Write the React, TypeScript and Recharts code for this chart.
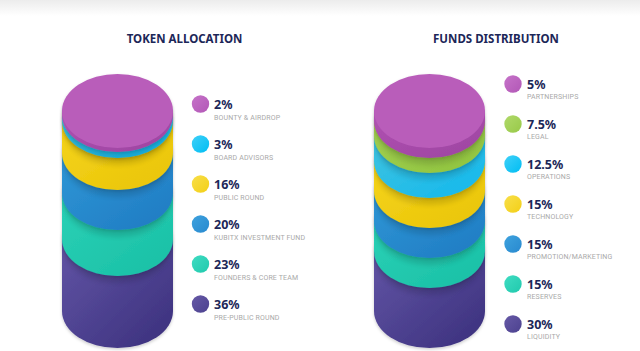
import React from "react";
import { BarChart, Bar, XAxis, YAxis } from "recharts";

// ---- Data ----
const tokenTitle = "TOKEN ALLOCATION";
const tokenLabels = ["BOUNTY & AIRDROP", "BOARD ADVISORS", "PUBLIC ROUND", "KUBITX INVESTMENT FUND", "FOUNDERS & CORE TEAM", "PRE-PUBLIC ROUND"];
const tokenValues = [2, 3, 16, 20, 23, 36];
const tokenValueText = ["2%", "3%", "16%", "20%", "23%", "36%"];

const fundsTitle = "FUNDS DISTRIBUTION";
const fundsLabels = ["PARTNERSHIPS", "LEGAL", "OPERATIONS", "TECHNOLOGY", "PROMOTION/MARKETING", "RESERVES", "LIQUIDITY"];
const fundsValues = [5, 7.5, 12.5, 15, 15, 15, 30];
const fundsValueText = ["5%", "7.5%", "12.5%", "15%", "15%", "15%", "30%"];

// ---- Styles ----
type Pal = { key: string; top: string; light: string; dark: string; dot: string; dotLight: string };
const PAL: Record<string, Pal> = {
  magenta: { key: "magenta", top: "#b95dba", light: "#b052b2", dark: "#9d44a1", dot: "#b257b6", dotLight: "#c673c9" },
  cyan: { key: "cyan", top: "#3fc0dc", light: "#40c3df", dark: "#12b8ee", dot: "#00bdf3", dotLight: "#3fd0f8" },
  yellow: { key: "yellow", top: "#f4d21c", light: "#f5d41c", dark: "#e9c407", dot: "#f3cf16", dotLight: "#f8df4a" },
  blue: { key: "blue", top: "#2d94d4", light: "#2f97d6", dark: "#1f7ac2", dot: "#2889cf", dotLight: "#3ea2de" },
  teal: { key: "teal", top: "#25ccb0", light: "#2bd1b6", dark: "#19bfa5", dot: "#20c9ad", dotLight: "#3fdcc2" },
  purple: { key: "purple", top: "#5b4f9f", light: "#6255a5", dark: "#3a2f7c", dot: "#4c418f", dotLight: "#6659a6" },
  green: { key: "green", top: "#9fce4d", light: "#a3d152", dark: "#8fc33e", dot: "#98c948", dotLight: "#b0d96a" },
};
const tokenColors = [PAL.magenta, PAL.cyan, PAL.yellow, PAL.blue, PAL.teal, PAL.purple];
const fundsColors = [PAL.magenta, PAL.green, PAL.cyan, PAL.yellow, PAL.blue, PAL.teal, PAL.purple];

const NAVY = "#1c2758";
const RY = 37;

function buildRow(values: number[]) {
  const row: Record<string, number | string> = { name: "stack" };
  values.forEach((v, i) => (row["s" + i] = v));
  return [row];
}

function makeShape(pal: Pal, isBottom: boolean) {
  return (props: any) => {
    const { x, y, width, height } = props;
    if (width == null || height == null) return null;
    const rx = width / 2;
    const cx = x + rx;
    const yt = y;
    const yb = y + height;
    const side = `M${x},${yt} L${x},${yb} A${rx},${RY} 0 0 0 ${x + width},${yb} L${x + width},${yt} Z`;
    const cast = `M${x + 1},${yb} A${rx - 1},${RY} 0 0 0 ${x + width - 1},${yb} L${x + width - 1},${yb + 7} A${rx - 1},${RY} 0 0 1 ${x + 1},${yb + 7} Z`;
    return (
      <g>
        {!isBottom && <path d={cast} fill="#000" opacity={0.12} filter="url(#blur3)" />}
        <g filter="url(#layerShadow)">
          <path d={side} fill={`url(#side-${pal.key})`} />
          <ellipse cx={cx} cy={yt} rx={rx} ry={RY} fill={pal.top} />
        </g>
      </g>
    );
  };
}

function Cylinder({ values, colors, left, margin }: { values: number[]; colors: Pal[]; left: number; margin: any }) {
  const data = buildRow(values);
  const idx = values.map((_, i) => i).reverse(); // bottom first
  return (
    <div style={{ position: "absolute", left, top: 0 }}>
      <BarChart width={320} height={351} data={data} margin={margin} barCategoryGap={0}>
        <XAxis dataKey="name" hide />
        <YAxis hide domain={[0, 100]} />
        {idx.map((i, k) => (
          <Bar key={i} dataKey={"s" + i} stackId="a" isAnimationActive={false} shape={makeShape(colors[i], k === 0)} />
        ))}
      </BarChart>
    </div>
  );
}

function LegendBlock({ labels, texts, colors, cx, tx, cy0, labelDy }: any) {
  return (
    <g>
      {labels.map((l: string, i: number) => {
        const cy = cy0 + 40 * i;
        const pal: Pal = colors[i];
        return (
          <g key={i}>
            <circle cx={cx} cy={cy} r={8.7} fill={`url(#dot-${pal.key})`} />
            <text x={tx} y={cy + 4.6} fontFamily="'Noto Sans', sans-serif" fontWeight={700} fontSize={12.5} fill={NAVY}>
              {texts[i]}
            </text>
            <text x={tx} y={cy + labelDy} fontFamily="Roboto, sans-serif" fontSize={7} fill="#a9a9a9" letterSpacing={0.15}>
              {l}
            </text>
          </g>
        );
      })}
    </g>
  );
}

export default function App() {
  const pals = Object.values(PAL);
  return (
    <div style={{ position: "absolute", left: 0, top: 0, width: 640, height: 351, overflow: "hidden", background: "#fff" }}>
      <div style={{ position: "absolute", left: 0, top: 0, width: 640, height: 16, background: "linear-gradient(#ececec, #ffffff)" }} />
      <svg width={0} height={0} style={{ position: "absolute" }}>
        <defs>
          <filter id="layerShadow" x="-20%" y="-30%" width="140%" height="180%">
            <feDropShadow dx="0" dy="1.5" stdDeviation="1.8" floodColor="#000" floodOpacity="0.2" />
          </filter>
          <filter id="blur3" x="-20%" y="-50%" width="140%" height="200%">
            <feGaussianBlur stdDeviation="2.5" />
          </filter>
          {pals.map((p) => (
            <linearGradient key={"s" + p.key} id={`side-${p.key}`} x1="0" y1="0" x2="1" y2="1">
              <stop offset="0" stopColor={p.light} />
              <stop offset="1" stopColor={p.dark} />
            </linearGradient>
          ))}
          {pals.map((p) => (
            <linearGradient key={"d" + p.key} id={`dot-${p.key}`} x1="0" y1="0" x2="1" y2="1">
              <stop offset="0" stopColor={p.dotLight} />
              <stop offset="1" stopColor={p.dot} />
            </linearGradient>
          ))}
        </defs>
      </svg>
      <Cylinder values={tokenValues} colors={tokenColors} left={0} margin={{ top: 111, bottom: 40, left: 62, right: 147 }} />
      <Cylinder values={fundsValues} colors={fundsColors} left={320} margin={{ top: 111, bottom: 40, left: 54, right: 155 }} />
      <svg width={640} height={351} style={{ position: "absolute", left: 0, top: 0, pointerEvents: "none" }}>
        <text x={184.5} y={42.5} textAnchor="middle" fontFamily="'Noto Sans', sans-serif" fontWeight={700} fontSize={11.5} fill={NAVY}>
          {tokenTitle}
        </text>
        <text x={496} y={42.5} textAnchor="middle" fontFamily="'Noto Sans', sans-serif" fontWeight={700} fontSize={11.5} fill={NAVY}>
          {fundsTitle}
        </text>
        <LegendBlock labels={tokenLabels} texts={tokenValueText} colors={tokenColors} cx={200.5} tx={214} cy0={104} labelDy={15.5} />
        <LegendBlock labels={fundsLabels} texts={fundsValueText} colors={fundsColors} cx={513} tx={527} cy0={84} labelDy={14.5} />
      </svg>
    </div>
  );
}
